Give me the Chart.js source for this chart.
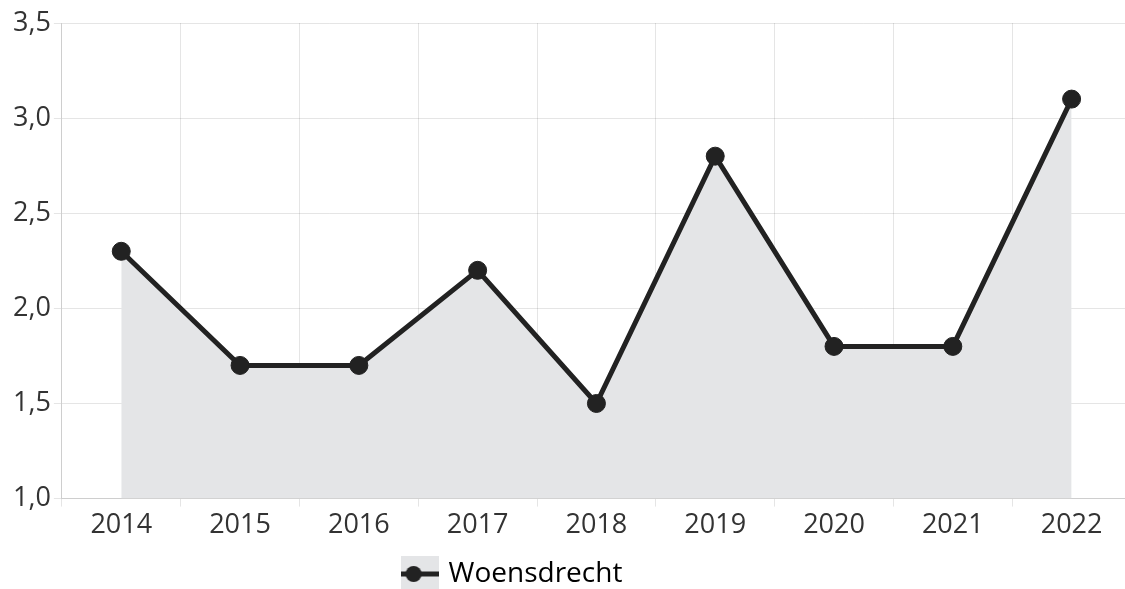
<!DOCTYPE html>
<html lang="nl">
<head>
<meta charset="utf-8">
<script src="https://cdn.jsdelivr.net/npm/chart.js@4"></script>
<style>
    html, body { margin: 0; padding: 0; background: #fff; overflow: hidden; }
    #wrap { width: 1141px; height: 589px; position: relative; }
</style>
</head>
<body>
<div id="wrap"><canvas id="lineChart"></canvas></div>
<script>
// Jaren en waarden
const jaren = ['2014', '2015', '2016', '2017', '2018', '2019', '2020', '2021', '2022'];
const woensdrecht = [2.3, 1.7, 1.7, 2.2, 1.5, 2.8, 1.8, 1.8, 3.1];
const reeksNaam = 'Woensdrecht';
const yMin = 1.0;
const yMax = 3.5;
const yStap = 0.5;

const lijnKleur = '#222222';
const vulKleur = '#e4e5e7';
const rasterKleur = 'rgba(0, 0, 0, 0.1)';

// Legend swatch: grey box with a line and a dot
function maakLegendaIcoon() {
    const c = document.createElement('canvas');
    c.width = 38;
    c.height = 36;
    const g = c.getContext('2d');
    g.fillStyle = vulKleur;
    g.fillRect(0, 0, 38, 36);
    g.strokeStyle = lijnKleur;
    g.lineWidth = 5;
    g.beginPath();
    g.moveTo(0, 18);
    g.lineTo(38, 18);
    g.stroke();
    g.fillStyle = lijnKleur;
    g.beginPath();
    g.arc(13, 18, 8, 0, Math.PI * 2);
    g.fill();
    return c;
}
const legendaIcoon = maakLegendaIcoon();

// Move the legend a bit left and down
const legendaVerschuiving = {
    id: 'legendaVerschuiving',
    afterLayout(chart) {
        chart.legend.left -= 62;
        chart.legend.right -= 62;
        chart.legend.top += 9;
        chart.legend.bottom += 9;
    }
};

Chart.defaults.font.family = "'Open Sans', sans-serif";
Chart.defaults.font.size = 27;
Chart.defaults.color = '#333';

new Chart(document.getElementById('lineChart'), {
    type: 'line',
    data: {
        labels: jaren,
        datasets: [{
            label: reeksNaam,
            data: woensdrecht,
            borderColor: lijnKleur,
            backgroundColor: vulKleur,
            borderWidth: 5,
            fill: 'start',
            tension: 0,
            pointRadius: 9,
            pointHoverRadius: 9,
            pointBackgroundColor: lijnKleur,
            pointBorderColor: lijnKleur,
            pointBorderWidth: 1
        }]
    },
    options: {
        responsive: true,
        maintainAspectRatio: false,
        animation: false,
        layout: {
            padding: { top: 23, right: 0, left: 10, bottom: 0 }
        },
        scales: {
            x: {
                offset: true,
                grid: { color: rasterKleur, offset: true },
                border: { color: rasterKleur },
                ticks: { color: '#333' }
            },
            y: {
                min: yMin,
                max: yMax,
                ticks: {
                    stepSize: yStap,
                    color: '#333',
                    callback: v => v.toFixed(1).replace('.', ',')
                },
                grid: { color: rasterKleur },
                border: { color: rasterKleur }
            }
        },
        plugins: {
            tooltip: { enabled: false },
            legend: {
                position: 'bottom',
                labels: {
                    usePointStyle: true,
                    pointStyleWidth: 30,
                    boxHeight: 36,
                    padding: 6,
                    color: '#333',
                    font: { size: 28 },
                    generateLabels: chart => [{
                        text: reeksNaam,
                        pointStyle: legendaIcoon,
                        fillStyle: vulKleur,
                        strokeStyle: lijnKleur,
                        lineWidth: 0,
                        hidden: false,
                        datasetIndex: 0
                    }]
                }
            }
        }
    },
    plugins: [legendaVerschuiving]
});
</script>
</body>
</html>
